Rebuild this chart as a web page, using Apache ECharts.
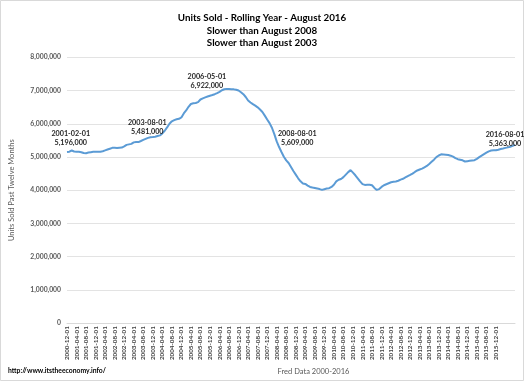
<!DOCTYPE html>
<html>
<head>
<meta charset="utf-8">
<script src="https://cdn.jsdelivr.net/npm/echarts@6/dist/echarts.min.js"></script>
<style>
html,body{margin:0;padding:0;background:#fff;}
#c{width:524px;height:381px;}
</style>
</head>
<body>
<div id="c"></div>
<script>
// ---- DATA ----
var startYear = 2000, startMonth = 12, monthCount = 189; // 2000-12-01 .. 2016-08-01
var titleLines = ['Units Sold - Rolling Year - August 2016', 'Slower than August 2008', 'Slower than August 2003'];
var yAxisTitle = 'Units Sold Past Twelve Months';
var xAxisTitle = 'Fred Data 2000-2016';
var footerText = 'http://www.itstheeconomy.info/';
var yTicks = [0, 1000000, 2000000, 3000000, 4000000, 5000000, 6000000, 7000000, 8000000];
var lastLabeledDate = '2015-12-01';

// units sold, rolling 12 months (thousands)
var unitsSoldThousands = [
5150,5160,5196,5165,5160,5155,5145,5120,5115,5135,5145,5155,5160,5160,5160,5175,5200,5225,5250,5275,
5275,5270,5280,5285,5320,5365,5380,5395,5440,5450,5450,5481,5515,5545,5575,5595,5600,5610,5630,5650,
5710,5790,5890,6000,6075,6110,6135,6150,6190,6310,6400,6510,6595,6615,6625,6650,6730,6765,6795,6820,
6845,6865,6890,6922,6960,7010,7040,7050,7045,7040,7035,7025,7000,6950,6890,6805,6700,6640,6590,6545,
6495,6430,6355,6245,6130,6020,5880,5690,5470,5300,5150,5010,4900,4820,4700,4580,4470,4360,4270,4205,
4190,4140,4100,4080,4065,4050,4035,4010,4030,4050,4060,4100,4165,4265,4315,4340,4395,4470,4545,4605,
4530,4450,4360,4265,4185,4160,4165,4165,4150,4070,4010,4035,4100,4150,4180,4210,4240,4255,4265,4285,
4320,4345,4385,4425,4460,4500,4550,4595,4625,4650,4690,4730,4790,4855,4920,4995,5045,5080,5075,5070,
5060,5040,5010,4965,4935,4920,4900,4865,4875,4885,4895,4905,4945,4995,5040,5085,5130,5170,5195,5200,
5205,5220,5240,5255,5275,5290,5310,5335,5363
];

var annotationDates  = ['2001-02-01', '2003-08-01', '2006-05-01', '2008-08-01', '2016-08-01'];
var annotationValues = [5196000, 5481000, 6922000, 5609000, 5363000];
// ---- END DATA ----

var annotationOffsets = [[-1,-12.5],[4,-13.5],[-15,-12],[11,1.5],[-10,-5.5]];

function pad(n){return n<10?'0'+n:''+n;}
var months = [];
for (var k = 0; k < monthCount; k++) {
  var m0 = startMonth - 1 + k;
  var y = startYear + Math.floor(m0 / 12);
  var m = (m0 % 12) + 1;
  months.push(y + '-' + pad(m) + '-01');
}
var seriesValues = unitsSoldThousands.map(function(v){return v*1000;});
var lastLabelIdx = months.indexOf(lastLabeledDate);

function fmt(v){return Math.round(v).toString().replace(/\B(?=(\d{3})+(?!\d))/g, ',');}

var FONT = 'Lato, "Open Sans", sans-serif';

var chart = echarts.init(document.getElementById('c'), null, {renderer:'canvas'});
chart.setOption({
  animation: false,
  backgroundColor: '#ffffff',
  textStyle: {fontFamily: FONT},
  title: {
    text: titleLines.join('\n'),
    left: 'center', top: 7,
    textStyle: {fontFamily: FONT, fontSize: 9.8, fontWeight: 'bold', color: '#000', lineHeight: 12.5}
  },
  grid: {left: 66.7, right: 9, top: 57.3, bottom: 57.7, containLabel: false},
  xAxis: {
    type: 'category',
    data: months,
    boundaryGap: false,
    name: xAxisTitle,
    nameLocation: 'middle',
    nameGap: 44,
    nameTextStyle: {fontFamily: FONT, fontSize: 7.5, color: '#595959', padding: [0,0,0,45]},
    axisLine: {show: true, lineStyle: {color: '#d9d9d9', width: 1}},
    axisTick: {show: false},
    axisLabel: {
      rotate: 90,
      margin: 3,
      fontSize: 6.3,
      fontWeight: 'bold',
      color: '#404040',
      fontFamily: FONT,
      interval: function(i){ return i % 4 === 0 && i <= lastLabelIdx; }
    },
    splitLine: {show: false}
  },
  yAxis: {
    type: 'value',
    min: yTicks[0], max: yTicks[yTicks.length-1], interval: yTicks[1]-yTicks[0],
    name: yAxisTitle,
    nameLocation: 'middle',
    nameGap: 51,
    nameRotate: 90,
    nameTextStyle: {fontFamily: FONT, fontSize: 7.5, color: '#595959', padding:[0,0,0,0]},
    axisLine: {show: false},
    axisTick: {show: false},
    axisLabel: {fontSize: 6.8, fontWeight: 'bold', color: '#595959', margin: 6, fontFamily: FONT,
      formatter: function(v){return fmt(v);}},
    splitLine: {lineStyle: {color: '#e3e3e3', width: 1}}
  },
  series: [{
    type: 'line',
    data: seriesValues,
    showSymbol: false,
    symbol: 'none',
    lineStyle: {color: '#5B9BD5', width: 2},
    itemStyle: {color: '#5B9BD5'},
    markPoint: {
      symbol: 'circle',
      symbolSize: 0,
      data: annotationDates.map(function(d, i){
        return {
          coord: [d, annotationValues[i]],
          value: annotationValues[i],
          label: {
            show: true,
            position: 'inside',
            offset: annotationOffsets[i],
            formatter: d + '\n' + fmt(annotationValues[i]),
            fontFamily: FONT, fontSize: 7.2, fontWeight: 'bold', color: '#262626',
            lineHeight: 8.7, align: 'center'
          }
        };
      })
    }
  }],
  graphic: [
    {type: 'rect', shape: {x: 0.5, y: 0.5, width: 523, height: 380},
     style: {fill: 'none', stroke: '#d9d9d9', lineWidth: 1}, silent: true},
    {type: 'text', left: 8, top: 367,
     style: {text: footerText, fontFamily: FONT, fontSize: 6.8, fontWeight: 'bold', fill: '#000'}}
  ]
});
</script>
</body>
</html>
